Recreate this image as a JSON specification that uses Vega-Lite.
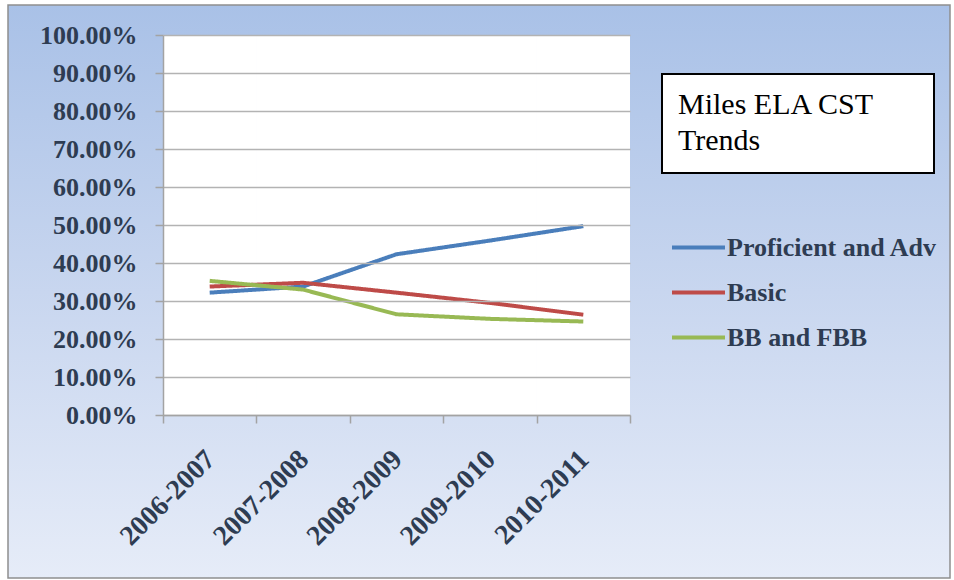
{
  "$schema": "https://vega.github.io/schema/vega-lite/v6.json",
  "width": 942,
  "height": 573,
  "autosize": {"type": "none"},
  "padding": {"left": 8, "top": 5, "right": 4, "bottom": 2},
  "background": "#ffffff",
  "view": {
    "fill": {
      "gradient": "linear",
      "x1": 0, "y1": 0, "x2": 0, "y2": 1,
      "stops": [
        {"offset": 0, "color": "#a9c1e7"},
        {"offset": 0.5, "color": "#c8d6ef"},
        {"offset": 1, "color": "#e6ecf8"}
      ]
    },
    "stroke": "#8e8e8e",
    "strokeWidth": 1.5
  },
  "data": {
    "values": [
      {"series": "Proficient and Adv", "year": "2006-2007", "pct": 0.322},
      {"series": "Proficient and Adv", "year": "2007-2008", "pct": 0.338},
      {"series": "Proficient and Adv", "year": "2008-2009", "pct": 0.423},
      {"series": "Proficient and Adv", "year": "2009-2010", "pct": 0.459},
      {"series": "Proficient and Adv", "year": "2010-2011", "pct": 0.497},
      {"series": "Basic", "year": "2006-2007", "pct": 0.338},
      {"series": "Basic", "year": "2007-2008", "pct": 0.348},
      {"series": "Basic", "year": "2008-2009", "pct": 0.322},
      {"series": "Basic", "year": "2009-2010", "pct": 0.295},
      {"series": "Basic", "year": "2010-2011", "pct": 0.264},
      {"series": "BB and FBB", "year": "2006-2007", "pct": 0.353},
      {"series": "BB and FBB", "year": "2007-2008", "pct": 0.330},
      {"series": "BB and FBB", "year": "2008-2009", "pct": 0.265},
      {"series": "BB and FBB", "year": "2009-2010", "pct": 0.253},
      {"series": "BB and FBB", "year": "2010-2011", "pct": 0.246}
    ]
  },
  "encoding": {
    "x": {
      "field": "year",
      "type": "ordinal",
      "scale": {"type": "band", "range": [155, 622], "paddingInner": 0, "paddingOuter": 0},
      "axis": {
        "title": null,
        "offset": -163,
        "tickBand": "extent",
        "tickSize": 8,
        "tickWidth": 1.5,
        "tickColor": "#a3a3a3",
        "domainColor": "#a3a3a3",
        "domainWidth": 1.5,
        "labelAngle": -45,
        "labelPadding": 22,
        "labelOffset": -9,
        "labelFont": "Liberation Serif",
        "labelFontWeight": "bold",
        "labelFontSize": 28,
        "labelColor": "#2e3c52",
        "grid": false,
        "zindex": 1
      }
    },
    "y": {
      "field": "pct",
      "type": "quantitative",
      "scale": {"domain": [0, 1], "range": [410, 30]},
      "axis": {
        "title": null,
        "offset": -155,
        "values": [0, 0.1, 0.2, 0.3, 0.4, 0.5, 0.6, 0.7, 0.8, 0.9, 1],
        "format": ".2%",
        "tickSize": 8,
        "tickWidth": 1.5,
        "tickColor": "#a3a3a3",
        "domainColor": "#a3a3a3",
        "domainWidth": 1.5,
        "labelPadding": 18,
        "labelFont": "Liberation Serif",
        "labelFontWeight": "bold",
        "labelFontSize": 26,
        "labelColor": "#2e3c52",
        "grid": true,
        "gridColor": "#b3b3b3",
        "gridWidth": 1.5,
        "zindex": 1
      }
    }
  },
  "layer": [
    {
      "mark": {"type": "rect", "fill": "#ffffff"},
      "encoding": {
        "y": {"datum": 0, "type": "quantitative"},
        "y2": {"datum": 1}
      }
    },
    {
      "mark": {"type": "line", "strokeWidth": 4, "strokeJoin": "round"},
      "encoding": {
        "color": {
          "field": "series",
          "type": "nominal",
          "scale": {
            "domain": ["Proficient and Adv", "Basic", "BB and FBB"],
            "range": ["#4a7ebb", "#be4b48", "#98b954"]
          },
          "legend": {
            "title": null,
            "orient": "none",
            "legendX": 675,
            "legendY": 227,
            "padding": 0,
            "symbolType": "M-2,0H2",
            "symbolSize": 702,
            "symbolStrokeWidth": 4,
            "labelOffset": 13,
            "rowPadding": 16,
            "labelLimit": 0,
            "labelFont": "Liberation Serif",
            "labelFontWeight": "bold",
            "labelFontSize": 26,
            "labelColor": "#2e3c52"
          }
        },
        "strokeDash": {
          "datum": "Miles ELA CST Trends",
          "type": "nominal",
          "legend": {
            "title": ["Miles ELA CST", "Trends"],
            "orient": "none",
            "legendX": 654,
            "legendY": 69,
            "fillColor": "#ffffff",
            "strokeColor": "#000000",
            "padding": 16,
            "titlePadding": 0,
            "titleLimit": 0,
            "titleFont": "Liberation Serif",
            "titleFontSize": 30,
            "titleFontWeight": "normal",
            "titleColor": "#000000",
            "titleLineHeight": 36,
            "symbolSize": 0,
            "symbolOpacity": 0,
            "symbolStrokeWidth": 0,
            "labelExpr": "''",
            "labelFontSize": 1,
            "labelOffset": 239,
            "encode": {
              "legend": {"update": {"strokeWidth": {"value": 2}}}
            }
          }
        }
      }
    }
  ]
}
